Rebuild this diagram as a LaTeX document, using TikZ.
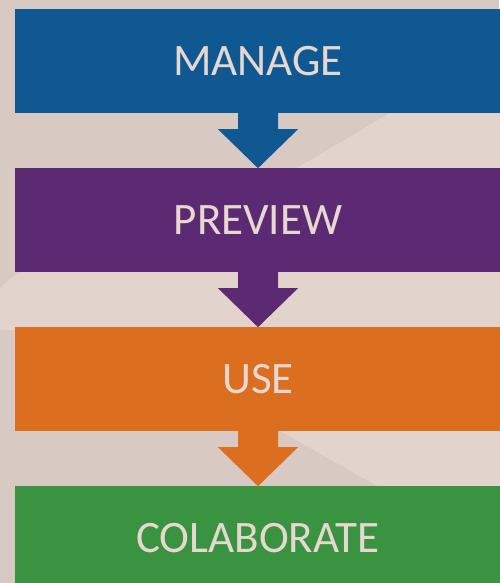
\documentclass[tikz,border=0pt]{standalone}
\usepackage{fontspec}
\setmainfont{Carlito}
\usetikzlibrary{calc}
\definecolor{bgdark}{HTML}{D8CAC3}
\definecolor{bglight}{HTML}{E2D4CD}
\definecolor{cblue}{HTML}{0F5891}
\definecolor{cpurple}{HTML}{5C2A73}
\definecolor{corange}{HTML}{DB6E1F}
\definecolor{cgreen}{HTML}{3A9340}
\definecolor{ctext}{HTML}{E6D8D0}
\newcommand{\blockarrow}[2]{%
  \fill[#2] ($(#1.south)+(-20,-5)$) -- ($(#1.south)+(20,-5)$) -- ($(#1.south)+(20,16)$)
    -- ($(#1.south)+(40,16)$) -- ($(#1.south)+(0,55)$) -- ($(#1.south)+(-40,16)$)
    -- ($(#1.south)+(-20,16)$) -- cycle;}
\begin{document}
\begin{tikzpicture}[x=1pt,y=-1pt,
  bar/.style={rectangle, minimum width=486pt, minimum height=104pt, inner sep=0pt,
    text=ctext, font=\fontsize{45}{54}\selectfont}]
\useasboundingbox (0,0) rectangle (499,583);
\fill[bgdark] (0,0) rectangle (499,583);
\fill[bglight] (0,288) -- (15,275) -- (297,168) -- (390,113) -- (420,95) -- (520,95)
  -- (520,590) -- (377,486) -- (280,431) -- (15,330) -- (0,330) -- cycle;
\node[bar, fill=cblue]   (manage)  at (258,61)  {MANAGE};
\node[bar, fill=cpurple] (preview) at (258,220) {PREVIEW};
\node[bar, fill=corange] (use)     at (258,379) {USE};
\node[bar, fill=cgreen]  (colab)   at (258,538) {COLABORATE};
\blockarrow{manage}{cblue}
\blockarrow{preview}{cpurple}
\blockarrow{use}{corange}
\end{tikzpicture}
\end{document}
